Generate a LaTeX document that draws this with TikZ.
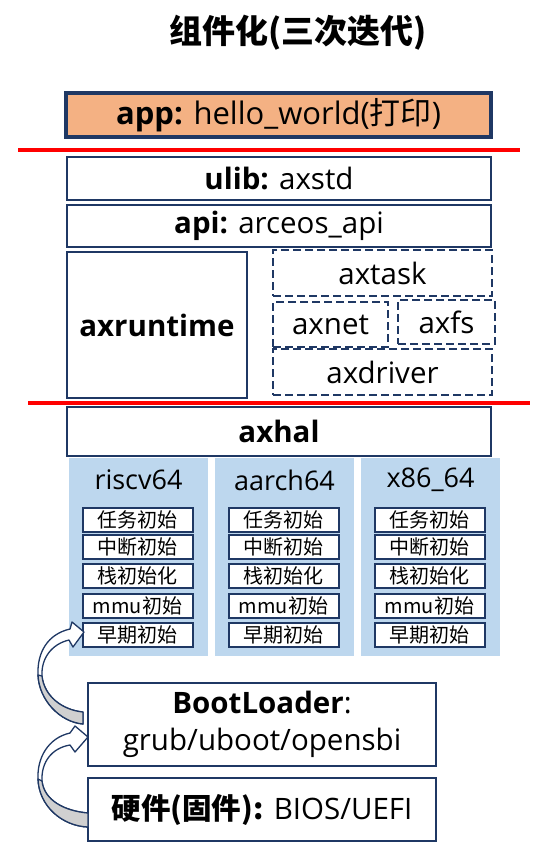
\documentclass[tikz,border=0pt]{standalone}
\usepackage{fontspec}
\setmainfont{Open Sans}
\newfontfamily\cjk{Noto Sans CJK SC}
\definecolor{navy}{HTML}{1F3864}
\definecolor{peach}{HTML}{F4B183}
\definecolor{paleblue}{HTML}{BDD7EE}
\definecolor{shade}{HTML}{D0D0D0}

\begin{document}
\begin{tikzpicture}[x=1pt,y=-1pt]
\tikzstyle{every node}+=[inner sep=0pt]
\tikzstyle{layer}=[draw=navy, line width=2pt, fill=white, font=\fontsize{29.5}{35}\selectfont]
\tikzstyle{crate}=[layer, line width=2.3pt, dash pattern=on 8pt off 4pt]
\tikzstyle{archcol}=[fill=paleblue, minimum width=139pt, minimum height=198pt]
\tikzstyle{archname}=[font=\fontsize{27}{32}\selectfont]
\tikzstyle{initbox}=[draw=navy, line width=2pt, fill=white, minimum width=110pt, minimum height=24pt, font=\cjk\fontsize{20}{24}\selectfont]
\tikzstyle{redline}=[red, line width=4pt]
\tikzstyle{blockarrow}=[draw=navy, line width=1.3pt, fill=white, line join=round]
\useasboundingbox (0,0) rectangle (533,855);
% title
\node (title) at (298,33) {\cjk\bfseries\fontsize{33}{39}\selectfont 组件化(三次迭代)};
% app layer
\node [layer, line width=4pt, fill=peach, minimum width=425pt, minimum height=44pt, font=\fontsize{31}{36}\selectfont] (app) at (278.5,115) {\textbf{app:} hello\_world({\cjk 打印})};
\draw [redline] (18,150) -- (520,150);
% modules
\node [layer, minimum width=424pt, minimum height=43pt] (ulib) at (279,178.5) {\textbf{ulib:} axstd};
\node [layer, minimum width=424pt, minimum height=42pt] (api) at (279,226) {\textbf{api:} arceos\_api};
\node [layer, minimum width=180pt, minimum height=146pt] (runtime) at (157,325) {\textbf{axruntime}};
\node [crate, minimum width=219pt, minimum height=46pt] (task) at (382.5,273) {axtask};
\node [crate, minimum width=115pt, minimum height=45pt] (net) at (330.5,324.5) {axnet};
\node [crate, minimum width=97pt, minimum height=44pt] (fs) at (446.5,322) {axfs};
\node [crate, minimum width=219pt, minimum height=46pt] (driver) at (382.5,372) {axdriver};
\draw [redline] (28,403) -- (530,403);
\node [layer, minimum width=424pt, minimum height=49pt] (hal) at (279,431.5) {\textbf{axhal}};
% architectures
\foreach \nm/\lbl/\cx in {riscv/riscv64/138.5, aarch/aarch64/284.5, xsix/x86\_64/430.5} {
  \node [archcol] (\nm) at (\cx,557) {};
  \node [archname] (\nm-name) at (\cx,480) {\lbl};
  \foreach \row/\cy/\txt in {1/519.5/任务初始, 2/547/中断初始, 3/576/栈初始化, 4/605.5/mmu初始, 5/634.5/早期初始}
    \node [initbox] (\nm-\row) at (\cx-1,\cy) {\txt};
}
% boot chain
\node [layer, minimum width=348pt, minimum height=83pt, align=center] (boot) at (262,724.5) {\textbf{BootLoader}:\\[2pt]grub/uboot/opensbi};
\node [layer, minimum width=348pt, minimum height=63pt] (firmware) at (262,809.5) {{\cjk\bfseries 硬件(固件):} BIOS/UEFI};
% curved arrows
\filldraw [blockarrow] (70,629) .. controls (48,634) and (37,652) .. (38,675) .. controls (39,700) and (60,722) .. (83,724) -- (83,712) .. controls (62,710) and (44,696) .. (42,676) .. controls (41,658) and (52,644) .. (69,640) -- (73,647) -- (84,632) -- (72,622) -- cycle;
\filldraw [blockarrow, fill=shade] (38,675) .. controls (39,700) and (60,722) .. (83,724) -- (83,712) .. controls (62,710) and (44,696) .. (42,676) -- cycle;
\filldraw [blockarrow] (70,733) .. controls (48,738) and (37,758) .. (38,779) .. controls (39,806) and (62,826) .. (88,827) -- (88,813) .. controls (64,811) and (44,800) .. (42,781) .. controls (41,762) and (52,748) .. (70,745) -- (75,752) -- (88,737) -- (75,726) -- cycle;
\filldraw [blockarrow, fill=shade] (38,779) .. controls (39,806) and (62,826) .. (88,827) -- (88,813) .. controls (64,811) and (44,800) .. (42,781) -- cycle;
\end{tikzpicture}
\end{document}
